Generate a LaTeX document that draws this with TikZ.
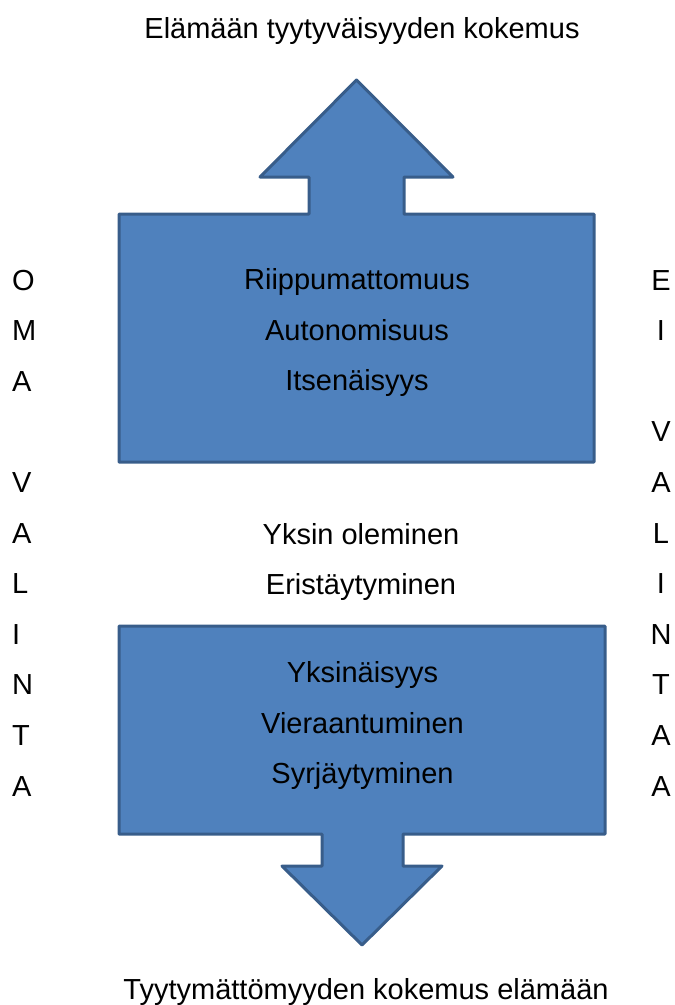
\documentclass[tikz,border=0pt]{standalone}
\usepackage{fontspec}
\setmainfont{Liberation Sans}
\definecolor{fillblue}{HTML}{4F81BD}
\definecolor{edgeblue}{HTML}{385D8A}
\begin{document}
\begin{tikzpicture}[x=1pt,y=-1pt,
  shapestyle/.style={fill=fillblue,draw=edgeblue,line width=3pt,line join=round},
  txt/.style={inner sep=0pt,anchor=base,font=\fontsize{29}{35}\selectfont,text=black},
  lft/.style={txt,anchor=base west},
  rgt/.style={txt,anchor=base}]
\useasboundingbox (0,0) rectangle (675,1005);
% top arrow box
\draw[shapestyle] (356.5,80) -- (453,177) -- (404,177) -- (404,214) -- (594,214) -- (594,462)
  -- (119,462) -- (119,214) -- (309,214) -- (309,177) -- (260,177) -- cycle;
% bottom arrow box
\draw[shapestyle] (119,626) -- (605,626) -- (605,834) -- (403,834) -- (403,866) -- (442,866)
  -- (362,945) -- (282,866) -- (322,866) -- (322,834) -- (119,834) -- cycle;
% titles
\node[txt] (top) at (362,38) {Elämään tyytyväisyyden kokemus};
\node[txt] (bot) at (366,999) {Tyytymättömyyden kokemus elämään};
% top box text
\node[txt] (t1) at (357,289) {Riippumattomuus};
\node[txt] (t2) at (357,340) {Autonomisuus};
\node[txt] (t3) at (357,390) {Itsenäisyys};
% middle text
\node[txt] (m1) at (361,544) {Yksin oleminen};
\node[txt] (m2) at (361,594) {Eristäytyminen};
% bottom box text
\node[txt] (b1) at (362.5,682) {Yksinäisyys};
\node[txt] (b2) at (362.5,733) {Vieraantuminen};
\node[txt] (b3) at (362.5,783) {Syrjäytyminen};
% left column
\foreach \k/\c in {0/O,1/M,2/A,4/V,5/A,6/L,7/I,8/N,9/T,10/A}
  \node[lft] (l\k) at (12,{290+50.6*\k}) {\c};
% right column
\foreach \k/\c in {0/E,1/I,3/V,4/A,5/L,6/I,7/N,8/T,9/A,10/A}
  \node[rgt] (r\k) at (661,{290+50.6*\k}) {\c};
\end{tikzpicture}
\end{document}
